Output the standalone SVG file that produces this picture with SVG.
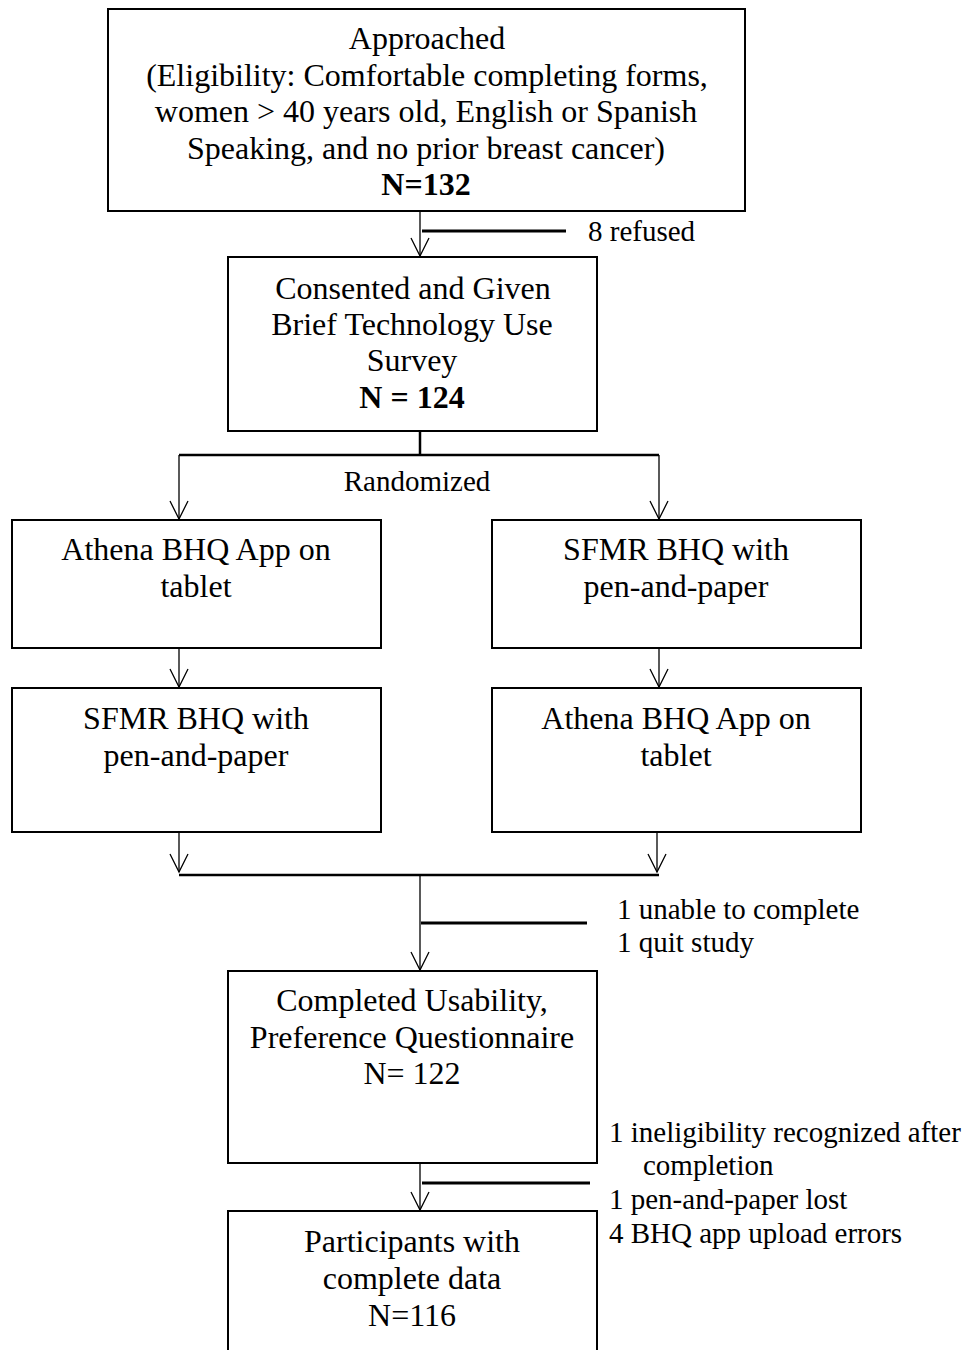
<svg xmlns="http://www.w3.org/2000/svg" width="967" height="1350" viewBox="0 0 967 1350">
<style>
.box{fill:#fff;stroke:#000;stroke-width:2}
.t{font-family:"Liberation Serif","Times New Roman",serif;font-size:32px;fill:#000;text-anchor:middle}
.b{font-weight:bold}
.s{font-family:"Liberation Serif","Times New Roman",serif;font-size:29px;fill:#000}
.thin{stroke:#000;stroke-width:1.3;fill:none}
.thick{stroke:#000;stroke-width:3;fill:none}
.mid{stroke:#000;stroke-width:2.5;fill:none}
</style>
<defs>
<marker id="ah" markerUnits="userSpaceOnUse" markerWidth="22" markerHeight="22" refX="20" refY="11" orient="auto" viewBox="0 0 22 22">
<path d="M2,2 L20,11 L2,20" fill="none" stroke="#000" stroke-width="1.3"/>
</marker>
</defs>
<rect width="967" height="1350" fill="#fff"/>
<g id="connectors">
<line class="thin" x1="420" y1="211" x2="420" y2="256" marker-end="url(#ah)"/>
<line class="thick" x1="422" y1="231" x2="566" y2="231"/>
<line class="mid" x1="420" y1="431" x2="420" y2="455"/>
<line class="mid" x1="179" y1="455" x2="659" y2="455"/>
<line class="thin" x1="179" y1="455" x2="179" y2="519" marker-end="url(#ah)"/>
<line class="thin" x1="659" y1="455" x2="659" y2="519" marker-end="url(#ah)"/>
<line class="thin" x1="179" y1="648" x2="179" y2="687" marker-end="url(#ah)"/>
<line class="thin" x1="659" y1="648" x2="659" y2="687" marker-end="url(#ah)"/>
<line class="thin" x1="179" y1="832" x2="179" y2="872" marker-end="url(#ah)"/>
<line class="thin" x1="657" y1="832" x2="657" y2="872" marker-end="url(#ah)"/>
<line class="mid" x1="179" y1="875" x2="659" y2="875"/>
<line class="thin" x1="420" y1="875" x2="420" y2="970" marker-end="url(#ah)"/>
<line class="thick" x1="421" y1="923" x2="587" y2="923"/>
<line class="thin" x1="420" y1="1163" x2="420" y2="1210" marker-end="url(#ah)"/>
<line class="thick" x1="422" y1="1183" x2="590" y2="1183"/>
</g>
<g id="n-approached">
<rect class="box" x="108" y="9" width="637" height="202"/>
<text class="t" x="427" y="49">Approached</text>
<text class="t" x="427" y="86">(Eligibility: Comfortable completing forms,</text>
<text class="t" x="426" y="122">women &gt; 40 years old, English or Spanish</text>
<text class="t" x="426" y="159">Speaking, and no prior breast cancer)</text>
<text class="t b" x="426" y="195">N=132</text>
</g>
<g id="l-refused"><text class="s" x="588" y="241">8 refused</text></g>
<g id="n-consented">
<rect class="box" x="228" y="257" width="369" height="174"/>
<text class="t" x="413" y="299">Consented and Given</text>
<text class="t" x="412" y="335">Brief Technology Use</text>
<text class="t" x="412" y="371">Survey</text>
<text class="t b" x="412" y="408">N = 124</text>
</g>
<g id="l-randomized"><text class="s" x="417" y="491" style="text-anchor:middle">Randomized</text></g>
<g id="n-athena1">
<rect class="box" x="12" y="520" width="369" height="128"/>
<text class="t" x="196" y="560">Athena BHQ App on</text>
<text class="t" x="196" y="597">tablet</text>
</g>
<g id="n-sfmr1">
<rect class="box" x="492" y="520" width="369" height="128"/>
<text class="t" x="676" y="560">SFMR BHQ with</text>
<text class="t" x="676" y="597">pen-and-paper</text>
</g>
<g id="n-sfmr2">
<rect class="box" x="12" y="688" width="369" height="144"/>
<text class="t" x="196" y="729">SFMR BHQ with</text>
<text class="t" x="196" y="766">pen-and-paper</text>
</g>
<g id="n-athena2">
<rect class="box" x="492" y="688" width="369" height="144"/>
<text class="t" x="676" y="729">Athena BHQ App on</text>
<text class="t" x="676" y="766">tablet</text>
</g>
<g id="l-unable">
<text class="s" x="617" y="919">1 unable to complete</text>
<text class="s" x="617" y="952">1 quit study</text>
</g>
<g id="n-completed">
<rect class="box" x="228" y="971" width="369" height="192"/>
<text class="t" x="412" y="1011">Completed Usability,</text>
<text class="t" x="412" y="1048">Preference Questionnaire</text>
<text class="t" x="412" y="1084">N= 122</text>
</g>
<g id="l-ineligible">
<text class="s" x="609" y="1142">1 ineligibility recognized after</text>
<text class="s" x="643" y="1175">completion</text>
<text class="s" x="609" y="1209">1 pen-and-paper lost</text>
<text class="s" x="609" y="1243">4 BHQ app upload errors</text>
</g>
<g id="n-participants">
<rect class="box" x="228" y="1211" width="369" height="150"/>
<text class="t" x="412" y="1252">Participants with</text>
<text class="t" x="412" y="1289">complete data</text>
<text class="t" x="412" y="1326">N=116</text>
</g>
</svg>
